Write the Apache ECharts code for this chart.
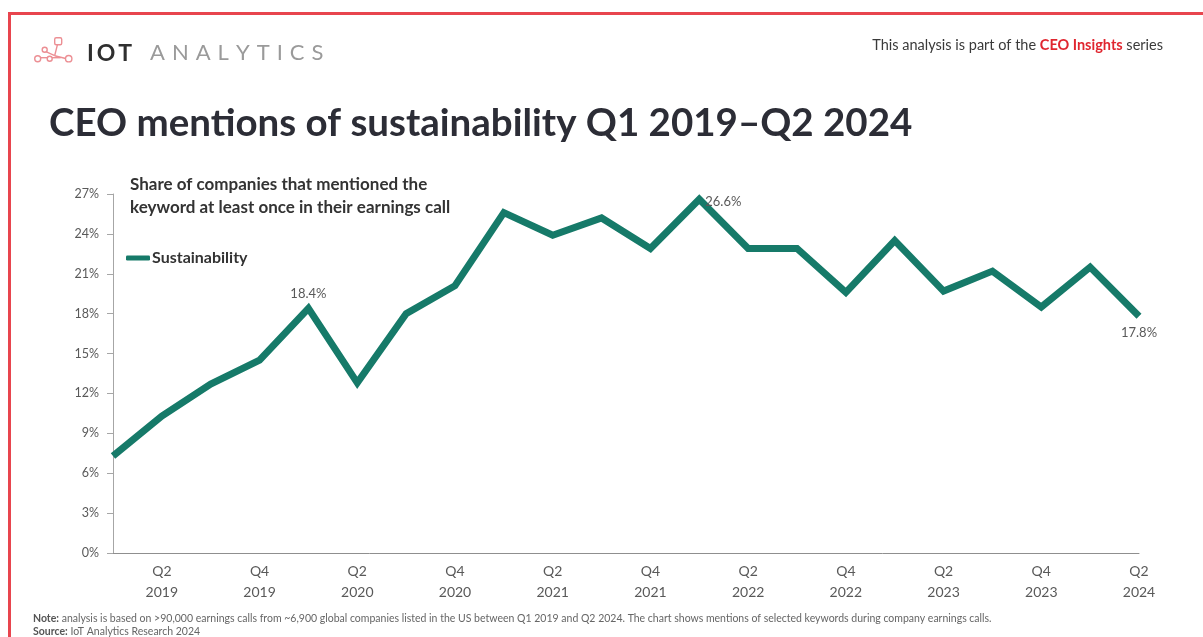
<!DOCTYPE html>
<html>
<head>
<meta charset="utf-8">
<script src="https://cdn.jsdelivr.net/npm/echarts@6/dist/echarts.min.js"></script>
<style>
  html, body { margin: 0; padding: 0; background: #ffffff; }
  #chart { width: 1203px; height: 637px; }
</style>
</head>
<body>
<div id="chart"></div>
<script>
// Quarterly share of companies mentioning "sustainability" in earnings calls (%)
const quarters = [
  'Q1 2019', 'Q2 2019', 'Q3 2019', 'Q4 2019',
  'Q1 2020', 'Q2 2020', 'Q3 2020', 'Q4 2020',
  'Q1 2021', 'Q2 2021', 'Q3 2021', 'Q4 2021',
  'Q1 2022', 'Q2 2022', 'Q3 2022', 'Q4 2022',
  'Q1 2023', 'Q2 2023', 'Q3 2023', 'Q4 2023',
  'Q1 2024', 'Q2 2024'
];
const sustainability = [
  7.3, 10.3, 12.7, 14.5,
  18.4, 12.8, 18.0, 20.1,
  25.6, 23.9, 25.2, 22.9,
  26.6, 22.9, 22.9, 19.6,
  23.5, 19.7, 21.2, 18.5,
  21.5, 17.8
];
// Points whose value is printed next to the line
const labelledQuarters = ['Q1 2020', 'Q1 2022', 'Q2 2024'];
const yTicks = [0, 3, 6, 9, 12, 15, 18, 21, 24, 27];

const FONT = 'Lato, "Open Sans", sans-serif';
const TEAL = '#167a69';
const RED = '#e8454e';

const labelPlacement = {
  'Q1 2020': { position: 'top', distance: 8 },
  'Q1 2022': { position: 'right', distance: 6, offset: [0, 2] },
  'Q2 2024': { position: 'bottom', distance: 10 }
};

const seriesData = sustainability.map(function (v, i) {
  const q = quarters[i];
  if (labelledQuarters.indexOf(q) === -1) return v;
  const p = labelPlacement[q];
  return {
    value: v,
    label: Object.assign({
      show: true,
      formatter: function (d) { return d.value.toFixed(1) + '%'; },
      color: '#595959',
      fontFamily: FONT,
      fontSize: 13
    }, p)
  };
});

const chart = echarts.init(document.getElementById('chart'), null, { renderer: 'canvas' });

chart.setOption({
  backgroundColor: '#ffffff',
  animation: false,
  textStyle: { fontFamily: FONT },
  grid: { left: 113, right: 64, top: 194, bottom: 84 },
  legend: {
    left: 121,
    top: 245,
    icon: 'roundRect',
    itemWidth: 24,
    itemHeight: 5,
    textStyle: { fontFamily: FONT, fontSize: 16, fontWeight: 'bold', color: '#333333', padding: [0, 0, 0, -3] },
    data: ['Sustainability']
  },
  xAxis: {
    type: 'category',
    data: quarters,
    boundaryGap: false,
    axisLine: { lineStyle: { color: '#8f8f8f', width: 1 } },
    axisTick: { show: false },
    axisLabel: {
      interval: function (index) { return index % 2 === 1; },
      formatter: function (v) { return v.replace(' ', '\n'); },
      color: '#595959',
      fontFamily: FONT,
      fontSize: 14,
      lineHeight: 21,
      margin: 8
    }
  },
  yAxis: {
    type: 'value',
    min: yTicks[0],
    max: yTicks[yTicks.length - 1],
    interval: yTicks[1] - yTicks[0],
    splitLine: { show: false },
    axisLine: { show: true, lineStyle: { color: '#a6a6a6', width: 1 } },
    axisTick: { show: true, length: 6, lineStyle: { color: '#a6a6a6' } },
    axisLabel: {
      formatter: '{value}%',
      color: '#595959',
      fontFamily: FONT,
      fontSize: 12.5,
      margin: 14
    }
  },
  series: [{
    name: 'Sustainability',
    type: 'line',
    data: seriesData,
    symbol: 'circle',
    symbolSize: 0,
    showSymbol: true,
    showAllSymbol: true,
    lineStyle: { color: TEAL, width: 7, join: 'miter', cap: 'butt' },
    itemStyle: { color: TEAL },
    emphasis: { disabled: true }
  }],
  graphic: [
    // frame
    { type: 'rect', shape: { x: 8, y: 12, width: 1195, height: 3 }, style: { fill: RED } },
    { type: 'rect', shape: { x: 8, y: 12, width: 3, height: 625 }, style: { fill: RED } },
    // logo mark
    {
      type: 'group', left: 34, top: 37,
      children: [
        { type: 'line', shape: { x1: 5, y1: 22, x2: 27, y2: 22 }, style: { stroke: '#ec8f94', lineWidth: 1.4 } },
        { type: 'line', shape: { x1: 10, y1: 15, x2: 21, y2: 20 }, style: { stroke: '#ec8f94', lineWidth: 1.4 } },
        { type: 'line', shape: { x1: 21, y1: 20, x2: 24, y2: 8 }, style: { stroke: '#ec8f94', lineWidth: 1.4 } },
        { type: 'line', shape: { x1: 21, y1: 20, x2: 33, y2: 23 }, style: { stroke: '#ec8f94', lineWidth: 1.4 } },
        { type: 'circle', shape: { cx: 4, cy: 23, r: 3 }, style: { fill: '#fff', stroke: '#ec8f94', lineWidth: 1.4 } },
        { type: 'circle', shape: { cx: 11, cy: 14, r: 2.5 }, style: { fill: '#fff', stroke: '#ec8f94', lineWidth: 1.4 } },
        { type: 'circle', shape: { cx: 16, cy: 23, r: 2.5 }, style: { fill: '#fff', stroke: '#ec8f94', lineWidth: 1.4 } },
        { type: 'rect', shape: { x: 21, y: 2, width: 7, height: 7, r: 1.5 }, style: { fill: '#fff', stroke: '#ec8f94', lineWidth: 1.4 } },
        { type: 'circle', shape: { cx: 35, cy: 23, r: 3.2 }, style: { fill: '#fff', stroke: '#ec8f94', lineWidth: 1.4 } }
      ]
    },
    {
      type: 'text', left: 87, top: 42,
      style: { text: 'I\u2009O\u2009T', fontFamily: FONT, fontSize: 23, fontWeight: 'bold', fill: '#2f2f2f' }
    },
    {
      type: 'text', left: 150, top: 42,
      style: { text: 'A \u200AN \u200AA \u200AL \u200AY \u200AT \u200AI \u200AC \u200AS', fontFamily: FONT, fontSize: 22, fontWeight: 'normal', fill: '#9a9a9a' }
    },
    // series note
    {
      type: 'text', right: 40, top: 38,
      style: {
        text: '{a|This analysis is part of the }{b|CEO Insights}{a| series}',
        rich: {
          a: { fontFamily: FONT, fontSize: 14.5, fill: '#3a3a3a' },
          b: { fontFamily: FONT, fontSize: 14.5, fill: '#e0262f', fontWeight: 'bold' }
        }
      }
    },
    // headline
    {
      type: 'text', left: 49, top: 104,
      style: {
        text: 'CEO mentions of sustainability Q1 2019\u2013Q2 2024',
        fontFamily: FONT, fontSize: 38.5, fontWeight: 'bold', fill: '#2c2d36'
      }
    },
    // chart subtitle
    {
      type: 'text', left: 130, top: 173,
      style: {
        text: 'Share of companies that mentioned the\nkeyword at least once in their earnings call',
        fontFamily: FONT, fontSize: 17, fontWeight: 'bold', fill: '#333333', lineHeight: 23
      }
    },
    // footnotes
    {
      type: 'text', left: 33, top: 613,
      style: {
        text: '{b|Note:} analysis is based on >90,000 earnings calls from ~6,900 global companies listed in the US between Q1 2019 and Q2 2024. The chart shows mentions of selected keywords during company earnings calls.',
        rich: { b: { fontWeight: 'bold', fontFamily: FONT, fontSize: 10.5, fill: '#555' } },
        fontFamily: FONT, fontSize: 10.5, fill: '#666666'
      }
    },
    {
      type: 'text', left: 33, top: 626,
      style: {
        text: '{b|Source:} IoT Analytics Research 2024',
        rich: { b: { fontWeight: 'bold', fontFamily: FONT, fontSize: 10.5, fill: '#555' } },
        fontFamily: FONT, fontSize: 10.5, fill: '#666666'
      }
    }
  ]
});
</script>
</body>
</html>
